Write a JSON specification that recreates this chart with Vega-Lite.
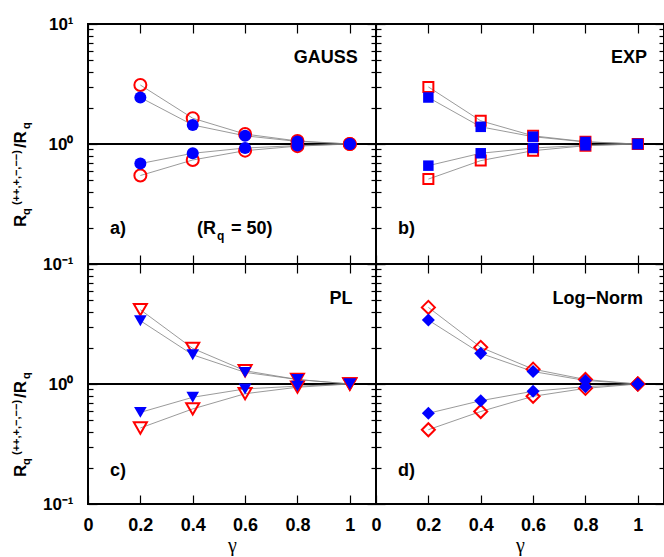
{
 "$schema": "https://vega.github.io/schema/vega-lite/v6.json",
 "padding": {"left": 10, "top": 14, "right": 0, "bottom": 0},
 "config": {
  "font": "Liberation Sans",
  "view": {"stroke": "black", "strokeWidth": 2},
  "axis": {"grid": false, "domain": false, "tickColor": "black", "tickWidth": 1.2, "labelFont": "Liberation Sans", "labelFontWeight": "bold", "labelColor": "black", "labelFlush": false, "labelOverlap": false, "labelBound": false, "titleColor": "black"}
 },
 "datasets": {
  "ref": [{"r": 1}],
  "pts": [
   {"p":"a","s":"ou","t":"o","g":0.2,"r":3.1},{"p":"a","s":"ou","t":"o","g":0.4,"r":1.64},{"p":"a","s":"ou","t":"o","g":0.6,"r":1.21},{"p":"a","s":"ou","t":"o","g":0.8,"r":1.06},{"p":"a","s":"ou","t":"o","g":1.0,"r":1.0},
   {"p":"a","s":"fu","t":"f","g":0.2,"r":2.44},{"p":"a","s":"fu","t":"f","g":0.4,"r":1.44},{"p":"a","s":"fu","t":"f","g":0.6,"r":1.17},{"p":"a","s":"fu","t":"f","g":0.8,"r":1.05},{"p":"a","s":"fu","t":"f","g":1.0,"r":1.0},
   {"p":"a","s":"fd","t":"f","g":0.2,"r":0.687},{"p":"a","s":"fd","t":"f","g":0.4,"r":0.837},{"p":"a","s":"fd","t":"f","g":0.6,"r":0.926},{"p":"a","s":"fd","t":"f","g":0.8,"r":0.97},{"p":"a","s":"fd","t":"f","g":1.0,"r":1.0},
   {"p":"a","s":"od","t":"o","g":0.2,"r":0.546},{"p":"a","s":"od","t":"o","g":0.4,"r":0.736},{"p":"a","s":"od","t":"o","g":0.6,"r":0.88},{"p":"a","s":"od","t":"o","g":0.8,"r":0.96},{"p":"a","s":"od","t":"o","g":1.0,"r":1.0},
   {"p":"b","s":"ou","t":"o","g":0.2,"r":2.99},{"p":"b","s":"ou","t":"o","g":0.4,"r":1.56},{"p":"b","s":"ou","t":"o","g":0.6,"r":1.17},{"p":"b","s":"ou","t":"o","g":0.8,"r":1.045},{"p":"b","s":"ou","t":"o","g":1.0,"r":1.0},
   {"p":"b","s":"fu","t":"f","g":0.2,"r":2.44},{"p":"b","s":"fu","t":"f","g":0.4,"r":1.39},{"p":"b","s":"fu","t":"f","g":0.6,"r":1.15},{"p":"b","s":"fu","t":"f","g":0.8,"r":1.04},{"p":"b","s":"fu","t":"f","g":1.0,"r":1.0},
   {"p":"b","s":"fd","t":"f","g":0.2,"r":0.66},{"p":"b","s":"fd","t":"f","g":0.4,"r":0.837},{"p":"b","s":"fd","t":"f","g":0.6,"r":0.926},{"p":"b","s":"fd","t":"f","g":0.8,"r":0.975},{"p":"b","s":"fd","t":"f","g":1.0,"r":1.0},
   {"p":"b","s":"od","t":"o","g":0.2,"r":0.51},{"p":"b","s":"od","t":"o","g":0.4,"r":0.727},{"p":"b","s":"od","t":"o","g":0.6,"r":0.88},{"p":"b","s":"od","t":"o","g":0.8,"r":0.968},{"p":"b","s":"od","t":"o","g":1.0,"r":1.0},
   {"p":"c","s":"ou","t":"o","g":0.2,"r":4.16},{"p":"c","s":"ou","t":"o","g":0.4,"r":1.98},{"p":"c","s":"ou","t":"o","g":0.6,"r":1.29},{"p":"c","s":"ou","t":"o","g":0.8,"r":1.09},{"p":"c","s":"ou","t":"o","g":1.0,"r":1.0},
   {"p":"c","s":"fu","t":"f","g":0.2,"r":3.37},{"p":"c","s":"fu","t":"f","g":0.4,"r":1.75},{"p":"c","s":"fu","t":"f","g":0.6,"r":1.25},{"p":"c","s":"fu","t":"f","g":0.8,"r":1.09},{"p":"c","s":"fu","t":"f","g":1.0,"r":1.0},
   {"p":"c","s":"fd","t":"f","g":0.2,"r":0.58},{"p":"c","s":"fd","t":"f","g":0.4,"r":0.775},{"p":"c","s":"fd","t":"f","g":0.6,"r":0.91},{"p":"c","s":"fd","t":"f","g":0.8,"r":0.96},{"p":"c","s":"fd","t":"f","g":1.0,"r":1.0},
   {"p":"c","s":"od","t":"o","g":0.2,"r":0.43},{"p":"c","s":"od","t":"o","g":0.4,"r":0.62},{"p":"c","s":"od","t":"o","g":0.6,"r":0.83},{"p":"c","s":"od","t":"o","g":0.8,"r":0.94},{"p":"c","s":"od","t":"o","g":1.0,"r":1.0},
   {"p":"d","s":"ou","t":"o","g":0.2,"r":4.35},{"p":"d","s":"ou","t":"o","g":0.4,"r":2.02},{"p":"d","s":"ou","t":"o","g":0.6,"r":1.33},{"p":"d","s":"ou","t":"o","g":0.8,"r":1.09},{"p":"d","s":"ou","t":"o","g":1.0,"r":1.0},
   {"p":"d","s":"fu","t":"f","g":0.2,"r":3.41},{"p":"d","s":"fu","t":"f","g":0.4,"r":1.8},{"p":"d","s":"fu","t":"f","g":0.6,"r":1.27},{"p":"d","s":"fu","t":"f","g":0.8,"r":1.07},{"p":"d","s":"fu","t":"f","g":1.0,"r":1.0},
   {"p":"d","s":"fd","t":"f","g":0.2,"r":0.57},{"p":"d","s":"fd","t":"f","g":0.4,"r":0.726},{"p":"d","s":"fd","t":"f","g":0.6,"r":0.87},{"p":"d","s":"fd","t":"f","g":0.8,"r":0.95},{"p":"d","s":"fd","t":"f","g":1.0,"r":1.0},
   {"p":"d","s":"od","t":"o","g":0.2,"r":0.416},{"p":"d","s":"od","t":"o","g":0.4,"r":0.59},{"p":"d","s":"od","t":"o","g":0.6,"r":0.79},{"p":"d","s":"od","t":"o","g":0.8,"r":0.92},{"p":"d","s":"od","t":"o","g":1.0,"r":1.0}
  ],
  "ann": [
   {"p":"a","k":"name","x":1.03,"y":5.17,"t":"GAUSS"},
   {"p":"b","k":"name","x":1.035,"y":5.17,"t":"EXP"},
   {"p":"c","k":"name","x":1.01,"y":5.1,"t":"PL"},
   {"p":"d","k":"name","x":1.02,"y":5.1,"t":"Log−Norm"},
   {"p":"a","k":"tag","x":0.084,"y":0.197,"t":"a)"},
   {"p":"b","k":"tag","x":0.084,"y":0.197,"t":"b)"},
   {"p":"c","k":"tag","x":0.084,"y":0.19,"t":"c)"},
   {"p":"d","k":"tag","x":0.084,"y":0.19,"t":"d)"},
   {"p":"a","k":"rq1","x":0.416,"y":0.197,"t":"(R"},
   {"p":"a","k":"rq2","x":0.416,"y":0.197,"t":"q"},
   {"p":"a","k":"rq3","x":0.416,"y":0.197,"t":"= 50)"},
   {"p":"a","k":"yt1","x":-0.2368,"y":0.203,"t":"R"},
   {"p":"a","k":"yt2","x":-0.2368,"y":0.203,"t":"q"},
   {"p":"a","k":"yt3","x":-0.2368,"y":0.203,"t":"(++,+,−,−−)"},
   {"p":"a","k":"yt4","x":-0.2368,"y":0.203,"t":"/R"},
   {"p":"a","k":"yt5","x":-0.2368,"y":0.203,"t":"q"},
   {"p":"c","k":"yt1","x":-0.2368,"y":0.168,"t":"R"},
   {"p":"c","k":"yt2","x":-0.2368,"y":0.168,"t":"q"},
   {"p":"c","k":"yt3","x":-0.2368,"y":0.168,"t":"(++,+,−,−−)"},
   {"p":"c","k":"yt4","x":-0.2368,"y":0.168,"t":"/R"},
   {"p":"c","k":"yt5","x":-0.2368,"y":0.168,"t":"q"}
  ]
 },
 "spacing": 0,
 "bounds": "flush",
 "columns": 2,
 "concat": [
    {
     "width": 288, "height": 240,
     "resolve": {"axis": {"x": "independent", "y": "independent"}},
     "layer": [
      {"data": {"name": "ref"}, "mark": {"type": "rule", "color": "black", "strokeWidth": 2},
       "encoding": {"y": {"field": "r", "type": "quantitative", "scale": {"type": "log", "domain": [0.1, 10], "nice": false}, "axis": null}}},
      {"data": {"name": "pts"}, "transform": [{"filter": "datum.p=='a'"}],
       "mark": {"type": "line", "color": "#808080", "strokeWidth": 0.8},
       "encoding": {
        "x": {"field": "g", "type": "quantitative", "scale": {"domain": [0, 1.1], "nice": false, "zero": false}, "axis": {"orient": "bottom", "values": [0,0.2,0.4,0.6,0.8,1], "tickSize": -9, "labels": false, "title": null}},
        "y": {"field": "r", "type": "quantitative", "scale": {"type": "log", "domain": [0.1, 10], "nice": false}, "axis": {"orient": "left", "values": [0.1,0.2,0.3,0.4,0.5,0.6,0.7,0.8,0.9,1,2,3,4,5,6,7,8,9,10], "tickSize": {"condition": {"test": "datum.value==0.1||datum.value==1||datum.value==10", "value": -9}, "value": -5}, "labelExpr": "datum.value==10?'10¹':datum.value==1?'10⁰':datum.value==0.1?'10⁻¹':''", "labelFontSize": 17, "labelPadding": 24, "title": null}},
        "detail": {"field": "s"}}},
      {"data": {"name": "pts"}, "transform": [{"filter": "datum.p=='a'&&datum.t=='o'"}],
       "mark": {"type": "point", "shape": "circle", "filled": false, "stroke": "#ff0000", "strokeWidth": 2, "size": 144, "opacity": 1},
       "encoding": {
        "x": {"field": "g", "type": "quantitative", "axis": {"orient": "top", "values": [0,0.2,0.4,0.6,0.8,1], "tickSize": -9, "labels": false, "title": null}},
        "y": {"field": "r", "type": "quantitative", "axis": {"orient": "right", "values": [0.1,0.2,0.3,0.4,0.5,0.6,0.7,0.8,0.9,1,2,3,4,5,6,7,8,9,10], "tickSize": {"condition": {"test": "datum.value==0.1||datum.value==1||datum.value==10", "value": -9}, "value": -5}, "labels": false, "title": null}}}},
      {"data": {"name": "pts"}, "transform": [{"filter": "datum.p=='a'&&datum.t=='f'"}],
       "mark": {"type": "point", "shape": "circle", "filled": true, "fill": "#0000ff", "strokeWidth": 0, "size": 144, "opacity": 1},
       "encoding": {"x": {"field": "g", "type": "quantitative", "axis": null}, "y": {"field": "r", "type": "quantitative", "axis": null}}},
      {"data": {"name": "ann"}, "transform": [{"filter": "datum.p=='a'&&datum.k=='name'"}],
       "mark": {"type": "text", "align": "right", "baseline": "middle", "fontSize": 18, "fontWeight": "bold", "color": "black"},
       "encoding": {"x": {"field": "x", "type": "quantitative", "axis": null}, "y": {"field": "y", "type": "quantitative", "axis": null}, "text": {"field": "t"}}},
      {"data": {"name": "ann"}, "transform": [{"filter": "datum.p=='a'&&datum.k=='tag'"}],
       "mark": {"type": "text", "align": "left", "baseline": "middle", "fontSize": 18, "fontWeight": "bold", "color": "black"},
       "encoding": {"x": {"field": "x", "type": "quantitative", "axis": null}, "y": {"field": "y", "type": "quantitative", "axis": null}, "text": {"field": "t"}}},
      {"data": {"name": "ann"}, "transform": [{"filter": "datum.p=='a'&&datum.k=='rq1'"}],
       "mark": {"type": "text", "align": "left", "baseline": "middle", "fontSize": 18, "fontWeight": "bold", "color": "black"},
       "encoding": {"x": {"field": "x", "type": "quantitative", "axis": null}, "y": {"field": "y", "type": "quantitative", "axis": null}, "text": {"field": "t"}}},
      {"data": {"name": "ann"}, "transform": [{"filter": "datum.p=='a'&&datum.k=='rq2'"}],
       "mark": {"type": "text", "align": "left", "baseline": "middle", "fontSize": 12, "fontWeight": "bold", "color": "black", "dx": 20, "dy": 7},
       "encoding": {"x": {"field": "x", "type": "quantitative", "axis": null}, "y": {"field": "y", "type": "quantitative", "axis": null}, "text": {"field": "t"}}},
      {"data": {"name": "ann"}, "transform": [{"filter": "datum.p=='a'&&datum.k=='rq3'"}],
       "mark": {"type": "text", "align": "left", "baseline": "middle", "fontSize": 18, "fontWeight": "bold", "color": "black", "dx": 34},
       "encoding": {"x": {"field": "x", "type": "quantitative", "axis": null}, "y": {"field": "y", "type": "quantitative", "axis": null}, "text": {"field": "t"}}},
      {"data": {"name": "ann"}, "transform": [{"filter": "datum.p=='a'&&datum.k=='yt1'"}],
       "mark": {"type": "text", "angle": 270, "align": "left", "baseline": "alphabetic", "fontSize": 17, "fontWeight": "bold", "color": "black"},
       "encoding": {"x": {"field": "x", "type": "quantitative", "axis": null}, "y": {"field": "y", "type": "quantitative", "axis": null}, "text": {"field": "t"}}},
      {"data": {"name": "ann"}, "transform": [{"filter": "datum.p=='a'&&datum.k=='yt2'"}],
       "mark": {"type": "text", "angle": 270, "align": "left", "baseline": "alphabetic", "fontSize": 11, "fontWeight": "bold", "color": "black", "dx": 12, "dy": 4},
       "encoding": {"x": {"field": "x", "type": "quantitative", "axis": null}, "y": {"field": "y", "type": "quantitative", "axis": null}, "text": {"field": "t"}}},
      {"data": {"name": "ann"}, "transform": [{"filter": "datum.p=='a'&&datum.k=='yt3'"}],
       "mark": {"type": "text", "angle": 270, "align": "left", "baseline": "alphabetic", "fontSize": 11, "fontWeight": "bold", "color": "black", "dx": 22, "dy": -6},
       "encoding": {"x": {"field": "x", "type": "quantitative", "axis": null}, "y": {"field": "y", "type": "quantitative", "axis": null}, "text": {"field": "t"}}},
      {"data": {"name": "ann"}, "transform": [{"filter": "datum.p=='a'&&datum.k=='yt4'"}],
       "mark": {"type": "text", "angle": 270, "align": "left", "baseline": "alphabetic", "fontSize": 17, "fontWeight": "bold", "color": "black", "dx": 79},
       "encoding": {"x": {"field": "x", "type": "quantitative", "axis": null}, "y": {"field": "y", "type": "quantitative", "axis": null}, "text": {"field": "t"}}},
      {"data": {"name": "ann"}, "transform": [{"filter": "datum.p=='a'&&datum.k=='yt5'"}],
       "mark": {"type": "text", "angle": 270, "align": "left", "baseline": "alphabetic", "fontSize": 11, "fontWeight": "bold", "color": "black", "dx": 98, "dy": 4},
       "encoding": {"x": {"field": "x", "type": "quantitative", "axis": null}, "y": {"field": "y", "type": "quantitative", "axis": null}, "text": {"field": "t"}}}
     ]
    },
    {
     "width": 288, "height": 240,
     "resolve": {"axis": {"x": "independent", "y": "independent"}},
     "layer": [
      {"data": {"name": "ref"}, "mark": {"type": "rule", "color": "black", "strokeWidth": 2},
       "encoding": {"y": {"field": "r", "type": "quantitative", "scale": {"type": "log", "domain": [0.1, 10], "nice": false}, "axis": null}}},
      {"data": {"name": "pts"}, "transform": [{"filter": "datum.p=='b'"}],
       "mark": {"type": "line", "color": "#808080", "strokeWidth": 0.8},
       "encoding": {
        "x": {"field": "g", "type": "quantitative", "scale": {"domain": [0, 1.1], "nice": false, "zero": false}, "axis": {"orient": "bottom", "values": [0,0.2,0.4,0.6,0.8,1], "tickSize": -9, "labels": false, "title": null}},
        "y": {"field": "r", "type": "quantitative", "scale": {"type": "log", "domain": [0.1, 10], "nice": false}, "axis": {"orient": "left", "values": [0.1,0.2,0.3,0.4,0.5,0.6,0.7,0.8,0.9,1,2,3,4,5,6,7,8,9,10], "tickSize": {"condition": {"test": "datum.value==0.1||datum.value==1||datum.value==10", "value": -9}, "value": -5}, "labels": false, "title": null}},
        "detail": {"field": "s"}}},
      {"data": {"name": "pts"}, "transform": [{"filter": "datum.p=='b'&&datum.t=='o'"}],
       "mark": {"type": "point", "shape": "square", "filled": false, "stroke": "#ff0000", "strokeWidth": 2, "size": 100, "opacity": 1},
       "encoding": {
        "x": {"field": "g", "type": "quantitative", "axis": {"orient": "top", "values": [0,0.2,0.4,0.6,0.8,1], "tickSize": -9, "labels": false, "title": null}},
        "y": {"field": "r", "type": "quantitative", "axis": {"orient": "right", "values": [0.1,0.2,0.3,0.4,0.5,0.6,0.7,0.8,0.9,1,2,3,4,5,6,7,8,9,10], "tickSize": {"condition": {"test": "datum.value==0.1||datum.value==1||datum.value==10", "value": -9}, "value": -5}, "labels": false, "title": null}}}},
      {"data": {"name": "pts"}, "transform": [{"filter": "datum.p=='b'&&datum.t=='f'"}],
       "mark": {"type": "point", "shape": "square", "filled": true, "fill": "#0000ff", "strokeWidth": 0, "size": 110, "opacity": 1},
       "encoding": {"x": {"field": "g", "type": "quantitative", "axis": null}, "y": {"field": "r", "type": "quantitative", "axis": null}}},
      {"data": {"name": "ann"}, "transform": [{"filter": "datum.p=='b'&&datum.k=='name'"}],
       "mark": {"type": "text", "align": "right", "baseline": "middle", "fontSize": 18, "fontWeight": "bold", "color": "black"},
       "encoding": {"x": {"field": "x", "type": "quantitative", "axis": null}, "y": {"field": "y", "type": "quantitative", "axis": null}, "text": {"field": "t"}}},
      {"data": {"name": "ann"}, "transform": [{"filter": "datum.p=='b'&&datum.k=='tag'"}],
       "mark": {"type": "text", "align": "left", "baseline": "middle", "fontSize": 18, "fontWeight": "bold", "color": "black"},
       "encoding": {"x": {"field": "x", "type": "quantitative", "axis": null}, "y": {"field": "y", "type": "quantitative", "axis": null}, "text": {"field": "t"}}}
     ]
    },
    {
     "width": 288, "height": 240,
     "resolve": {"axis": {"x": "independent", "y": "independent"}},
     "layer": [
      {"data": {"name": "ref"}, "mark": {"type": "rule", "color": "black", "strokeWidth": 2},
       "encoding": {"y": {"field": "r", "type": "quantitative", "scale": {"type": "log", "domain": [0.1, 10], "nice": false}, "axis": null}}},
      {"data": {"name": "pts"}, "transform": [{"filter": "datum.p=='c'"}],
       "mark": {"type": "line", "color": "#808080", "strokeWidth": 0.8},
       "encoding": {
        "x": {"field": "g", "type": "quantitative", "scale": {"domain": [0, 1.1], "nice": false, "zero": false}, "axis": {"orient": "bottom", "values": [0,0.2,0.4,0.6,0.8,1], "tickSize": -9, "format": "~g", "labelFontSize": 18, "labelPadding": 21, "title": "γ", "titleFont": "Liberation Serif", "titleFontSize": 20, "titleFontWeight": "normal", "titlePadding": 1}},
        "y": {"field": "r", "type": "quantitative", "scale": {"type": "log", "domain": [0.1, 10], "nice": false}, "axis": {"orient": "left", "values": [0.1,0.2,0.3,0.4,0.5,0.6,0.7,0.8,0.9,1,2,3,4,5,6,7,8,9,10], "tickSize": {"condition": {"test": "datum.value==0.1||datum.value==1||datum.value==10", "value": -9}, "value": -5}, "labelExpr": "datum.value==1?'10⁰':datum.value==0.1?'10⁻¹':''", "labelFontSize": 17, "labelPadding": 24, "title": null}},
        "detail": {"field": "s"}}},
      {"data": {"name": "pts"}, "transform": [{"filter": "datum.p=='c'&&datum.t=='o'"}],
       "mark": {"type": "point", "shape": "triangle-down", "filled": false, "stroke": "#ff0000", "strokeWidth": 2, "size": 170, "opacity": 1},
       "encoding": {
        "x": {"field": "g", "type": "quantitative", "axis": {"orient": "top", "values": [0,0.2,0.4,0.6,0.8,1], "tickSize": -9, "labels": false, "title": null}},
        "y": {"field": "r", "type": "quantitative", "axis": {"orient": "right", "values": [0.1,0.2,0.3,0.4,0.5,0.6,0.7,0.8,0.9,1,2,3,4,5,6,7,8,9,10], "tickSize": {"condition": {"test": "datum.value==0.1||datum.value==1||datum.value==10", "value": -9}, "value": -5}, "labels": false, "title": null}}}},
      {"data": {"name": "pts"}, "transform": [{"filter": "datum.p=='c'&&datum.t=='f'"}],
       "mark": {"type": "point", "shape": "triangle-down", "filled": true, "fill": "#0000ff", "strokeWidth": 0, "size": 160, "opacity": 1},
       "encoding": {"x": {"field": "g", "type": "quantitative", "axis": null}, "y": {"field": "r", "type": "quantitative", "axis": null}}},
      {"data": {"name": "ann"}, "transform": [{"filter": "datum.p=='c'&&datum.k=='name'"}],
       "mark": {"type": "text", "align": "right", "baseline": "middle", "fontSize": 18, "fontWeight": "bold", "color": "black"},
       "encoding": {"x": {"field": "x", "type": "quantitative", "axis": null}, "y": {"field": "y", "type": "quantitative", "axis": null}, "text": {"field": "t"}}},
      {"data": {"name": "ann"}, "transform": [{"filter": "datum.p=='c'&&datum.k=='tag'"}],
       "mark": {"type": "text", "align": "left", "baseline": "middle", "fontSize": 18, "fontWeight": "bold", "color": "black"},
       "encoding": {"x": {"field": "x", "type": "quantitative", "axis": null}, "y": {"field": "y", "type": "quantitative", "axis": null}, "text": {"field": "t"}}},
      {"data": {"name": "ann"}, "transform": [{"filter": "datum.p=='c'&&datum.k=='yt1'"}],
       "mark": {"type": "text", "angle": 270, "align": "left", "baseline": "alphabetic", "fontSize": 17, "fontWeight": "bold", "color": "black"},
       "encoding": {"x": {"field": "x", "type": "quantitative", "axis": null}, "y": {"field": "y", "type": "quantitative", "axis": null}, "text": {"field": "t"}}},
      {"data": {"name": "ann"}, "transform": [{"filter": "datum.p=='c'&&datum.k=='yt2'"}],
       "mark": {"type": "text", "angle": 270, "align": "left", "baseline": "alphabetic", "fontSize": 11, "fontWeight": "bold", "color": "black", "dx": 12, "dy": 4},
       "encoding": {"x": {"field": "x", "type": "quantitative", "axis": null}, "y": {"field": "y", "type": "quantitative", "axis": null}, "text": {"field": "t"}}},
      {"data": {"name": "ann"}, "transform": [{"filter": "datum.p=='c'&&datum.k=='yt3'"}],
       "mark": {"type": "text", "angle": 270, "align": "left", "baseline": "alphabetic", "fontSize": 11, "fontWeight": "bold", "color": "black", "dx": 22, "dy": -6},
       "encoding": {"x": {"field": "x", "type": "quantitative", "axis": null}, "y": {"field": "y", "type": "quantitative", "axis": null}, "text": {"field": "t"}}},
      {"data": {"name": "ann"}, "transform": [{"filter": "datum.p=='c'&&datum.k=='yt4'"}],
       "mark": {"type": "text", "angle": 270, "align": "left", "baseline": "alphabetic", "fontSize": 17, "fontWeight": "bold", "color": "black", "dx": 79},
       "encoding": {"x": {"field": "x", "type": "quantitative", "axis": null}, "y": {"field": "y", "type": "quantitative", "axis": null}, "text": {"field": "t"}}},
      {"data": {"name": "ann"}, "transform": [{"filter": "datum.p=='c'&&datum.k=='yt5'"}],
       "mark": {"type": "text", "angle": 270, "align": "left", "baseline": "alphabetic", "fontSize": 11, "fontWeight": "bold", "color": "black", "dx": 98, "dy": 4},
       "encoding": {"x": {"field": "x", "type": "quantitative", "axis": null}, "y": {"field": "y", "type": "quantitative", "axis": null}, "text": {"field": "t"}}}
     ]
    },
    {
     "width": 288, "height": 240,
     "resolve": {"axis": {"x": "independent", "y": "independent"}},
     "layer": [
      {"data": {"name": "ref"}, "mark": {"type": "rule", "color": "black", "strokeWidth": 2},
       "encoding": {"y": {"field": "r", "type": "quantitative", "scale": {"type": "log", "domain": [0.1, 10], "nice": false}, "axis": null}}},
      {"data": {"name": "pts"}, "transform": [{"filter": "datum.p=='d'"}],
       "mark": {"type": "line", "color": "#808080", "strokeWidth": 0.8},
       "encoding": {
        "x": {"field": "g", "type": "quantitative", "scale": {"domain": [0, 1.1], "nice": false, "zero": false}, "axis": {"orient": "bottom", "values": [0,0.2,0.4,0.6,0.8,1], "tickSize": -9, "format": "~g", "labelFontSize": 18, "labelPadding": 21, "title": "γ", "titleFont": "Liberation Serif", "titleFontSize": 20, "titleFontWeight": "normal", "titlePadding": 1}},
        "y": {"field": "r", "type": "quantitative", "scale": {"type": "log", "domain": [0.1, 10], "nice": false}, "axis": {"orient": "left", "values": [0.1,0.2,0.3,0.4,0.5,0.6,0.7,0.8,0.9,1,2,3,4,5,6,7,8,9,10], "tickSize": {"condition": {"test": "datum.value==0.1||datum.value==1||datum.value==10", "value": -9}, "value": -5}, "labels": false, "title": null}},
        "detail": {"field": "s"}}},
      {"data": {"name": "pts"}, "transform": [{"filter": "datum.p=='d'&&datum.t=='o'"}],
       "mark": {"type": "point", "shape": "diamond", "filled": false, "stroke": "#ff0000", "strokeWidth": 2, "size": 170, "opacity": 1},
       "encoding": {
        "x": {"field": "g", "type": "quantitative", "axis": {"orient": "top", "values": [0,0.2,0.4,0.6,0.8,1], "tickSize": -9, "labels": false, "title": null}},
        "y": {"field": "r", "type": "quantitative", "axis": {"orient": "right", "values": [0.1,0.2,0.3,0.4,0.5,0.6,0.7,0.8,0.9,1,2,3,4,5,6,7,8,9,10], "tickSize": {"condition": {"test": "datum.value==0.1||datum.value==1||datum.value==10", "value": -9}, "value": -5}, "labels": false, "title": null}}}},
      {"data": {"name": "pts"}, "transform": [{"filter": "datum.p=='d'&&datum.t=='f'"}],
       "mark": {"type": "point", "shape": "diamond", "filled": true, "fill": "#0000ff", "strokeWidth": 0, "size": 170, "opacity": 1},
       "encoding": {"x": {"field": "g", "type": "quantitative", "axis": null}, "y": {"field": "r", "type": "quantitative", "axis": null}}},
      {"data": {"name": "ann"}, "transform": [{"filter": "datum.p=='d'&&datum.k=='name'"}],
       "mark": {"type": "text", "align": "right", "baseline": "middle", "fontSize": 18, "fontWeight": "bold", "color": "black"},
       "encoding": {"x": {"field": "x", "type": "quantitative", "axis": null}, "y": {"field": "y", "type": "quantitative", "axis": null}, "text": {"field": "t"}}},
      {"data": {"name": "ann"}, "transform": [{"filter": "datum.p=='d'&&datum.k=='tag'"}],
       "mark": {"type": "text", "align": "left", "baseline": "middle", "fontSize": 18, "fontWeight": "bold", "color": "black"},
       "encoding": {"x": {"field": "x", "type": "quantitative", "axis": null}, "y": {"field": "y", "type": "quantitative", "axis": null}, "text": {"field": "t"}}}
     ]
    }
 ]
}
